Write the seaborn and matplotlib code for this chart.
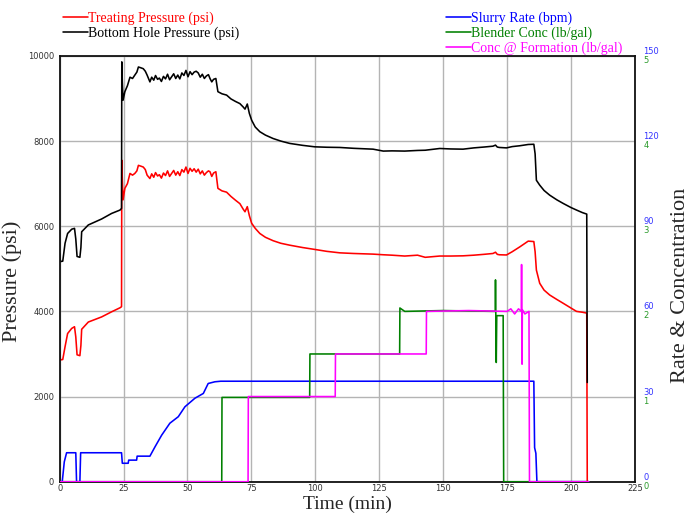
import numpy as np
import pandas as pd
import matplotlib
matplotlib.use('Agg')
import matplotlib.pyplot as plt
import seaborn as sns

# --- data ---
t_press = [0, 0.3, 1.2, 2.1, 3.1, 4.7, 5.8, 6.3, 6.8, 7.9, 8.3, 8.6, 11.2, 16.4, 20.3, 23.6, 24.2,
           24.3, 24.5, 24.8, 25.5, 26.5, 27.5, 28.5, 29.4, 30.2, 30.8, 31.8, 32.7, 33.5, 34.2, 35.3,
           36.0, 36.8, 37.5, 38.3, 39.0, 39.8, 40.6, 41.4, 42.2, 43.0, 43.8, 44.6, 45.4, 46.2, 47.0,
           47.8, 48.6, 49.4, 50.2, 51.0, 51.8, 52.6, 53.4, 54.2, 55.0, 55.8, 56.6, 57.4, 58.2, 58.8,
           59.5, 60.2, 61.1, 61.9, 63.5, 65.3, 67.0, 68.8, 70.5, 71.8, 72.5, 73.4, 74.2, 75.1, 76.5,
           78.3, 80.5, 83.5, 86.5, 90, 95, 99.8, 104.5, 109.6, 115, 122.6, 126.6, 130, 135, 140, 143,
           148.7, 153, 157.8, 162, 166, 169.5, 170.5, 171.2, 172, 174.8, 177, 180, 183.3, 185.5, 186.0,
           186.5, 187.8, 189.5, 191.7, 194.5, 197, 200, 202.2, 204.5, 206.2, 206.4]
treating_psi = [3050, 2860, 2870, 3170, 3480, 3600, 3640, 3400, 2980, 2960, 3200, 3580, 3750, 3870, 3990, 4085, 4110,
                7550, 7100, 6620, 6890, 7000, 7240, 7200, 7240, 7300, 7430, 7410, 7390, 7330, 7200, 7120,
                7230, 7150, 7260, 7180, 7210, 7130, 7250, 7190, 7300, 7170, 7240, 7310, 7200, 7280, 7190,
                7330, 7270, 7390, 7240, 7360, 7290, 7350, 7270, 7340, 7230, 7300, 7200, 7260, 7300, 7280,
                7170, 7250, 7280, 6890, 6830, 6800, 6700, 6610, 6530, 6400, 6340, 6460, 6250, 6070, 5950,
                5830, 5740, 5660, 5600, 5555, 5500, 5455, 5410, 5375, 5360, 5345, 5330, 5320, 5300, 5320, 5270,
                5300, 5300, 5305, 5320, 5340, 5360, 5390, 5340, 5330, 5325, 5400, 5515, 5650, 5640, 5400,
                4970, 4660, 4500, 4385, 4280, 4190, 4080, 4000, 3980, 3960, 0]
bottom_hole_psi = [5360, 5170, 5180, 5600, 5830, 5930, 5950, 5700, 5290, 5270, 5500, 5870, 6030, 6170, 6300, 6380, 6420,
                   9860, 9400, 8960, 9160, 9300, 9500, 9470, 9550, 9620, 9740, 9720, 9700, 9640, 9550, 9390,
                   9500, 9430, 9540, 9450, 9480, 9400, 9520, 9460, 9570, 9440, 9510, 9580, 9470, 9550, 9460,
                   9600, 9540, 9660, 9510, 9630, 9560, 9620, 9640, 9600, 9500, 9570, 9470, 9530, 9560, 9470,
                   9390, 9450, 9470, 9160, 9110, 9080, 8990, 8930, 8880, 8800, 8750, 8870, 8650, 8490, 8330,
                   8220, 8140, 8060, 8000, 7945, 7900, 7865, 7855, 7850, 7830, 7810, 7765, 7770, 7765, 7780, 7785,
                   7826, 7815, 7810, 7840, 7860, 7880, 7905, 7860, 7850, 7840, 7870, 7890, 7920, 7925, 7700,
                   7080, 6965, 6840, 6730, 6620, 6535, 6440, 6380, 6320, 6285, 2330]

t_rate = [0, 1.0, 1.8, 2.7, 6.3, 6.6, 7.9, 8.2, 24.2, 24.5, 26.8, 27.0, 30.1, 30.3, 35.3, 37.3, 39.9,
          43.1, 46.4, 49.0, 52.9, 56.2, 58.1, 60.7, 63, 185.5, 185.8, 186.3, 186.7, 207]
slurry_bpm = [0, 0, 7, 10.2, 10.2, 0, 0, 10.2, 10.2, 6.5, 6.5, 7.6, 7.6, 9.0, 9.0, 12.3, 16.4,
              20.6, 22.9, 26.4, 29.4, 31.1, 34.6, 35.2, 35.4, 35.4, 12, 10, 0, 0]

t_blender = [0, 63.4, 63.5, 97.8, 97.9, 133.0, 133.1, 135, 150, 170.4, 170.5, 170.8, 171.0, 173.5, 173.7, 207]
blender_ppg = [0, 0, 0.99, 0.99, 1.50, 1.50, 2.04, 2.0, 2.01, 2.00, 2.37, 1.40, 1.95, 1.95, 0, 0]

t_form = [0, 73.7, 73.8, 107.8, 107.9, 143.4, 143.5, 160, 175, 176.5, 178, 179.5, 180.6, 180.7, 180.9,
          181.0, 182, 183.6, 183.8, 207]
formation_ppg = [0, 0, 1.0, 1.0, 1.5, 1.5, 2.0, 2.01, 2.0, 2.03, 1.97, 2.03, 2.0, 2.55, 1.38,
                 2.02, 1.97, 2.0, 0, 0]

press_ticks = [0, 2000, 4000, 6000, 8000, 10000]
rate_ticks = [0, 30, 60, 90, 120, 150]
conc_ticks = [0, 1, 2, 3, 4, 5]
time_ticks = [0, 25, 50, 75, 100, 125, 150, 175, 200, 225]

sns.set_style('white')
plt.rcParams['font.family'] = ['DejaVu Sans']
serif = 'Liberation Serif'

fig = plt.figure(figsize=(6.9, 5.13), dpi=100)
ax = fig.add_axes([0.0865, 0.061, 0.8335, 0.830])
ax2 = ax.twinx()
ax3 = ax.twinx()

lw = 1.15
sns.lineplot(x=t_press, y=treating_psi, ax=ax, color='#ff0000', lw=lw, sort=False, estimator=None)
sns.lineplot(x=t_press, y=bottom_hole_psi, ax=ax, color='#000000', lw=lw, sort=False, estimator=None)
sns.lineplot(x=t_rate, y=slurry_bpm, ax=ax2, color='#0000ff', lw=lw, sort=False, estimator=None)
sns.lineplot(x=t_blender, y=blender_ppg, ax=ax3, color='#008000', lw=lw, sort=False, estimator=None)
sns.lineplot(x=t_form, y=formation_ppg, ax=ax3, color='#ff00ff', lw=lw, sort=False, estimator=None)

ax.set_xlim(0, 225)
ax.set_ylim(0, 10000)
ax2.set_ylim(0, 150)
ax3.set_ylim(0, 5)

ax.set_xticks(time_ticks)
ax.set_yticks(press_ticks)
ax.grid(True, color='#b4b4b4', lw=1.0)
ax.set_axisbelow(True)
ax.tick_params(axis='both', length=0, labelsize=6, colors='#333333')
ax.tick_params(axis='y', pad=4)
ax.tick_params(axis='x', pad=2)

ax2.set_yticks(rate_ticks)
ax2.tick_params(axis='y', length=0, labelsize=6, colors='#3333ff', pad=6)
for lbl in ax2.get_yticklabels():
    lbl.set_va('bottom')
ax3.set_yticks(conc_ticks)
ax3.tick_params(axis='y', length=0, labelsize=6, colors='#2a9a2a', pad=6)
for lbl in ax3.get_yticklabels():
    lbl.set_va('top')
for a in (ax2, ax3):
    a.grid(False)
    a.set_ylabel('')
    for s in a.spines.values():
        s.set_visible(False)

for s in ax.spines.values():
    s.set_color('#111111')
    s.set_linewidth(1.3)

ax.set_xlabel('Time (min)', family=serif, fontsize=14)
ax.set_ylabel('Pressure (psi)', family=serif, fontsize=16)
ax.yaxis.set_label_coords(-0.066, 0.47)
ax.xaxis.set_label_coords(0.5, -0.032)
fig.text(0.986, 0.4435, 'Rate & Concentration', family=serif, fontsize=16,
         rotation=90, ha='center', va='center')

h = ax.get_lines() + ax2.get_lines() + ax3.get_lines()
leg_kw = dict(frameon=False, borderpad=0, borderaxespad=0, handlelength=1.8,
              handletextpad=0.0, labelspacing=0.1, labelcolor='linecolor',
              prop={'family': serif, 'size': 10})
fig.legend(h[:2], ['Treating Pressure (psi)', 'Bottom Hole Pressure (psi)'],
           loc='upper left', bbox_to_anchor=(0.091, 0.977), **leg_kw)
fig.legend(h[2:], ['Slurry Rate (bpm)', 'Blender Conc (lb/gal)', 'Conc @ Formation (lb/gal)'],
           loc='upper left', bbox_to_anchor=(0.646, 0.977), **leg_kw)

fig.savefig('out.png', dpi=100)
